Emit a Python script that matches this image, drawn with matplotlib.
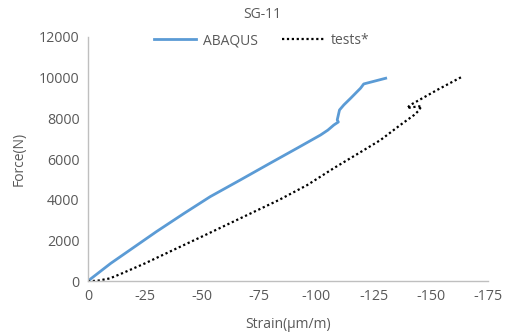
import matplotlib
matplotlib.use("Agg")
import matplotlib.pyplot as plt

abaqus_strain = [0, -10, -18.4, -30, -42, -53.5, -66.7, -80, -92, -101.8, -105, -107.6, -109.6, -109.1, -110.1, -112, -115, -117.8, -119.3, -120.7, -130.3]
abaqus_force = [0, 870, 1525, 2430, 3320, 4147, 4970, 5810, 6560, 7180, 7420, 7670, 7820, 7920, 8410, 8660, 8990, 9310, 9480, 9690, 9970]

tests_strain = [0, -4, -9.6, -15, -25, -38, -51.3, -67, -83.5, -96, -107.6, -118, -128, -136.8, -142.7, -144.5, -146, -142, -139.7, -141, -152.9, -163.8]
tests_force = [0, 10, 130, 380, 870, 1560, 2260, 3100, 3980, 4720, 5550, 6250, 6930, 7680, 8160, 8350, 8600, 8550, 8500, 8650, 9400, 10050]

xticks = [0, -25, -50, -75, -100, -125, -150, -175]
yticks = [0, 2000, 4000, 6000, 8000, 10000, 12000]

plt.rcParams['font.family'] = ['Open Sans', 'DejaVu Sans']
fig = plt.figure(figsize=(5.05, 3.33), dpi=100)
ax = fig.add_axes([0.174, 0.156, 0.792, 0.733])

ax.plot(abaqus_strain, abaqus_force, color='#5B9BD5', lw=2.0, label='ABAQUS')
ax.plot(tests_strain, tests_force, color='black', lw=1.6, ls=(0, (1, 1.2)), label='tests*')

ax.set_xlim(0, -175)
ax.set_ylim(0, 12000)
ax.set_xticks(xticks)
ax.set_yticks(yticks)
ax.set_xticklabels([str(v) for v in xticks])
ax.tick_params(length=0, labelsize=10.3, colors='#595959', pad=6)
for s in ['top', 'right']:
    ax.spines[s].set_visible(False)
for s in ['left', 'bottom']:
    ax.spines[s].set_color('#BFBFBF')
    ax.spines[s].set_linewidth(1.0)

ax.set_xlabel('Strain(μm/m)', fontsize=10, color='#595959', labelpad=9)
ax.set_ylabel('Force(N)', fontsize=10, color='#595959', labelpad=9)
fig.text(0.52, 0.955, 'SG-11', ha='center', va='center', fontsize=10, color='#595959')
leg = ax.legend(loc='center', bbox_to_anchor=(0.435, 0.985), ncol=2, frameon=False,
                fontsize=10, handlelength=3.0, columnspacing=1.8, handletextpad=0.5)
for t in leg.get_texts():
    t.set_color('#595959')

fig.savefig('out.png', dpi=100)
